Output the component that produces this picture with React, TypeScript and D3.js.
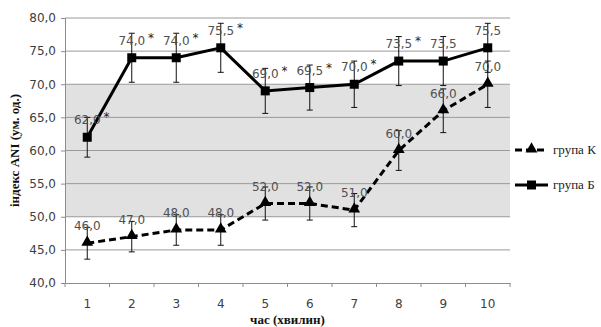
import React, { useRef, useEffect } from 'react';
import * as d3 from 'd3';

const MINUTES = ['1', '2', '3', '4', '5', '6', '7', '8', '9', '10'];
const GROUP_K = [46.0, 47.0, 48.0, 48.0, 52.0, 52.0, 51.0, 60.0, 66.0, 70.0];
const GROUP_K_ERR = [2.4, 2.3, 2.3, 2.3, 2.5, 2.5, 2.5, 3.0, 3.3, 3.5];
const GROUP_B = [62.0, 74.0, 74.0, 75.5, 69.0, 69.5, 70.0, 73.5, 73.5, 75.5];
const GROUP_B_ERR = [3.0, 3.7, 3.7, 3.7, 3.4, 3.4, 3.5, 3.7, 3.7, 3.7];
const GROUP_B_SIG = [true, true, true, true, true, true, true, true, false, false];
const Y_TICKS = [40, 45, 50, 55, 60, 65, 70, 75, 80];
const BAND = [50, 70];

const W = 601, H = 327;
const PLOT = { left: 65, right: 510, top: 18, bottom: 283 };
const NUM_FONT = '"DejaVu Sans", Verdana, sans-serif';
const SERIF = '"Liberation Serif", "DejaVu Serif", serif';

const fmt = (v: number) => d3.format('.1f')(v).replace('.', ',');

export default function App() {
  const svgRef = useRef<SVGSVGElement>(null);

  useEffect(() => {
    document.body.style.margin = '0';
    if (!svgRef.current) return;
    const svg = d3.select(svgRef.current);
    svg.selectAll('*').remove();

    const x = d3.scaleBand<string>().domain(MINUTES).range([PLOT.left, PLOT.right]);
    const y = d3.scaleLinear().domain([40, 80]).range([PLOT.bottom, PLOT.top]);
    const cx = (i: number) => (x(MINUTES[i]) as number) + x.bandwidth() / 2;

    // shaded reference band
    svg.append('rect')
      .attr('x', PLOT.left).attr('width', PLOT.right - PLOT.left)
      .attr('y', y(BAND[1])).attr('height', y(BAND[0]) - y(BAND[1]))
      .attr('fill', '#e1e1e1');

    // grid
    svg.append('g').selectAll('line')
      .data(Y_TICKS.slice(1))
      .join('line')
      .attr('x1', PLOT.left).attr('x2', PLOT.right)
      .attr('y1', d => y(d)).attr('y2', d => y(d))
      .attr('stroke', '#9a9a9a').attr('stroke-width', 1);

    // axes
    const yAxis = svg.append('g').attr('transform', `translate(${PLOT.left},0)`)
      .call(d3.axisLeft(y).tickValues(Y_TICKS).tickFormat(d => fmt(+d)).tickSize(4).tickPadding(5));
    yAxis.selectAll('text').attr('fill', '#404040').attr('font-size', 12).attr('font-family', NUM_FONT);
    yAxis.selectAll('line,path').attr('stroke', '#8c8c8c');

    const xAxis = svg.append('g').attr('transform', `translate(0,${PLOT.bottom})`)
      .call(d3.axisBottom(x).tickSize(0).tickPadding(16));
    xAxis.selectAll('text').attr('fill', '#404040').attr('font-size', 12).attr('font-family', NUM_FONT);
    xAxis.select('path').attr('stroke', '#8c8c8c');
    // ticks on band boundaries
    svg.append('g').selectAll('line')
      .data(d3.range(MINUTES.length + 1))
      .join('line')
      .attr('x1', i => PLOT.left + i * x.step()).attr('x2', i => PLOT.left + i * x.step())
      .attr('y1', PLOT.bottom).attr('y2', PLOT.bottom + 4)
      .attr('stroke', '#8c8c8c');

    // error bars
    const drawErr = (vals: number[], errs: number[]) => {
      const g = svg.append('g').attr('stroke', '#111').attr('stroke-width', 1);
      vals.forEach((v, i) => {
        const x0 = cx(i);
        g.append('line').attr('x1', x0).attr('x2', x0).attr('y1', y(v - errs[i])).attr('y2', y(v + errs[i]));
        [v - errs[i], v + errs[i]].forEach(e => {
          g.append('line').attr('x1', x0 - 3).attr('x2', x0 + 3).attr('y1', y(e)).attr('y2', y(e));
        });
      });
    };
    drawErr(GROUP_K, GROUP_K_ERR);
    drawErr(GROUP_B, GROUP_B_ERR);

    const line = d3.line<number>().x((_, i) => cx(i)).y(d => y(d));

    svg.append('path').datum(GROUP_K).attr('d', line)
      .attr('fill', 'none').attr('stroke', '#000').attr('stroke-width', 3)
      .attr('stroke-dasharray', '7,4');
    svg.append('path').datum(GROUP_B).attr('d', line)
      .attr('fill', 'none').attr('stroke', '#000').attr('stroke-width', 3);

    const tri = d3.symbol().type(d3.symbolTriangle).size(60);
    svg.append('g').selectAll('path')
      .data(GROUP_K)
      .join('path')
      .attr('d', tri)
      .attr('transform', (d, i) => `translate(${cx(i)},${y(d) - 1})`)
      .attr('fill', '#000');

    svg.append('g').selectAll('rect')
      .data(GROUP_B)
      .join('rect')
      .attr('x', (d, i) => cx(i) - 4.5).attr('y', d => y(d) - 4.5)
      .attr('width', 9).attr('height', 9)
      .attr('fill', '#000');

    // data labels
    const labels = (vals: number[], sig: boolean[] | null) => {
      const g = svg.append('g').attr('font-family', NUM_FONT).attr('font-size', 12).attr('fill', '#505050');
      vals.forEach((v, i) => {
        const t = g.append('text').attr('x', cx(i)).attr('y', y(v) - 13)
          .attr('text-anchor', 'middle').text(fmt(v));
        if (sig && sig[i]) {
          const w = (t.node() as SVGTextElement).getComputedTextLength();
          g.append('text').attr('x', cx(i) + w / 2 + 3).attr('y', y(v) - 16)
            .attr('fill', '#222').text('*');
        }
      });
    };
    labels(GROUP_K, null);
    labels(GROUP_B, GROUP_B_SIG);

    // legend
    const lg = svg.append('g');
    const lx0 = 515, lx1 = 548;
    lg.append('line').attr('x1', lx0).attr('x2', lx1).attr('y1', 150).attr('y2', 150)
      .attr('stroke', '#000').attr('stroke-width', 3).attr('stroke-dasharray', '7,4');
    lg.append('path').attr('d', tri).attr('transform', `translate(${(lx0 + lx1) / 2},149)`).attr('fill', '#000');
    lg.append('text').attr('x', 553).attr('y', 154).attr('font-family', SERIF).attr('font-size', 13)
      .attr('fill', '#222').text('група К');
    lg.append('line').attr('x1', lx0).attr('x2', lx1).attr('y1', 185).attr('y2', 185)
      .attr('stroke', '#000').attr('stroke-width', 3);
    lg.append('rect').attr('x', (lx0 + lx1) / 2 - 4.5).attr('y', 180.5).attr('width', 9).attr('height', 9).attr('fill', '#000');
    lg.append('text').attr('x', 553).attr('y', 189).attr('font-family', SERIF).attr('font-size', 13)
      .attr('fill', '#222').text('група Б');

    // axis titles
    svg.append('text')
      .attr('x', (PLOT.left + PLOT.right) / 2).attr('y', 324)
      .attr('text-anchor', 'middle').attr('font-family', SERIF).attr('font-weight', 700)
      .attr('font-size', 13).attr('fill', '#111').text('час (хвилин)');
    svg.append('text')
      .attr('transform', 'rotate(-90)')
      .attr('x', -(PLOT.top + PLOT.bottom) / 2).attr('y', 19)
      .attr('text-anchor', 'middle').attr('font-family', SERIF).attr('font-weight', 700)
      .attr('font-size', 13).attr('fill', '#111').text('індекс ANI (ум. од.)');
  }, []);

  return <svg ref={svgRef} width={W} height={H} style={{ display: 'block', background: '#fff' }} />;
}
